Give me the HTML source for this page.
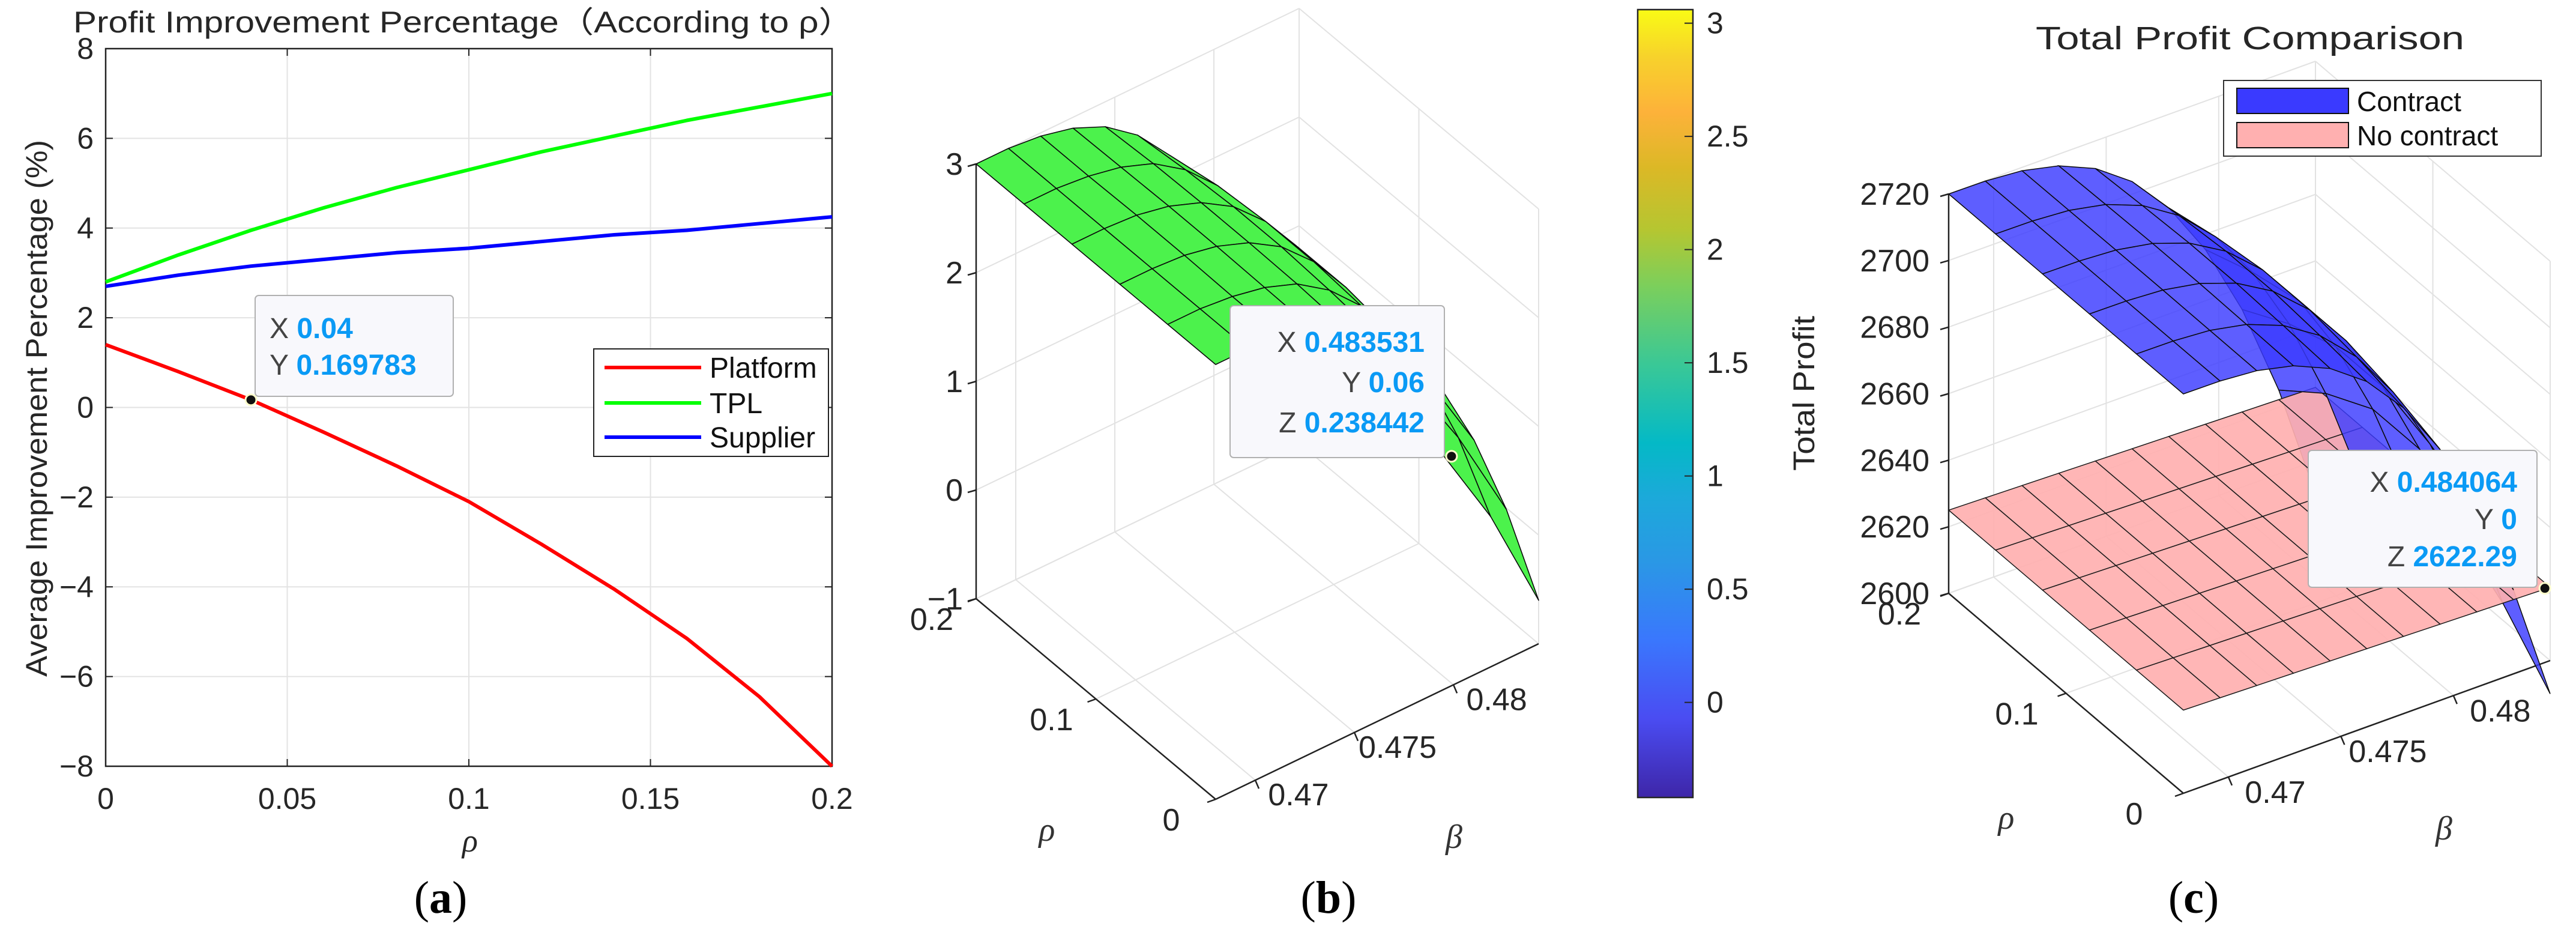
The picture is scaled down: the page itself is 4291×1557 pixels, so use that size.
<!DOCTYPE html>
<html><head><meta charset="utf-8"><style>
html,body{margin:0;padding:0;background:#fff;}
svg{display:block;font-family:"Liberation Sans",sans-serif;}
</style></head><body>
<svg id="fig" width="4291" height="1557" viewBox="0 0 4291 1557" xmlns="http://www.w3.org/2000/svg">
<rect x="0" y="0" width="4291" height="1557" fill="#fff"/>
<g id="pa"></g>
<g id="pb"></g>
<g id="pc"></g>
</svg>
<script>
// ---------- Panel (a) data ----------
const rhoA = [0,0.02,0.04,0.06,0.08,0.10,0.12,0.14,0.16,0.18,0.20];
const platformA = [1.4,0.8,0.17,-0.55,-1.3,-2.1,-3.05,-4.05,-5.15,-6.45,-8.0];
const tplA = [2.8,3.4,3.95,4.45,4.9,5.3,5.7,6.05,6.4,6.7,7.0];
const supplierA = [2.7,2.95,3.15,3.3,3.45,3.55,3.7,3.85,3.95,4.1,4.25];
const xTicksA = [0,0.05,0.1,0.15,0.2];
const xTickLabelsA = ["0","0.05","0.1","0.15","0.2"];
const yTicksA = [-8,-6,-4,-2,0,2,4,6,8];
const yTickLabelsA = ["\u22128","\u22126","\u22124","\u22122","0","2","4","6","8"];
const tipA = [0.04, 0.169783];

// ---------- Panel (b)/(c) data ----------
const betaGrid = [0.468,0.46963,0.47126,0.47289,0.47452,0.47615,0.47778,0.47941,0.48104,0.48267,0.4843];
const rhoGrid = [0,0.04,0.08,0.12,0.16,0.2];
const zB = [
 [3.00,3.00,2.97,2.90,2.77,2.55,2.22,1.77,1.16,0.38,-0.60],
 [3.00,3.00,2.97,2.91,2.80,2.60,2.31,1.90,1.36,0.67,-0.20],
 [3.00,3.00,2.98,2.92,2.81,2.63,2.35,1.97,1.46,0.81,0.00],
 [3.00,3.00,2.98,2.92,2.81,2.63,2.35,1.97,1.46,0.81,0.00],
 [3.00,3.00,2.97,2.91,2.80,2.60,2.31,1.90,1.36,0.67,-0.20],
 [3.00,3.00,2.97,2.90,2.77,2.55,2.22,1.77,1.16,0.38,-0.60]];
const zContract = [
 [2720,2719.9,2719,2716.5,2711.7,2703.8,2691.9,2675.4,2653.4,2625.2,2590],
 [2720,2719.9,2719.1,2716.9,2712.6,2705.6,2695.2,2680.6,2661.1,2636.2,2605],
 [2720,2719.9,2719.2,2717.2,2713.3,2706.9,2697.3,2684,2666.2,2643.5,2615],
 [2720,2719.9,2719.2,2717.2,2713.3,2706.9,2697.3,2684,2666.2,2643.5,2615],
 [2720,2719.9,2719.1,2716.9,2712.6,2705.6,2695.2,2680.6,2661.1,2636.2,2605],
 [2720,2719.9,2719,2716.5,2711.7,2703.8,2691.9,2675.4,2653.4,2625.2,2590]];
const zNoContract = [
 [2625,2624.7,2624.4,2624.1,2623.8,2623.5,2623.2,2622.9,2622.6,2622.3,2622.0],
 [2625,2624.7,2624.4,2624.1,2623.8,2623.5,2623.2,2622.9,2622.6,2622.3,2622.0],
 [2625,2624.7,2624.4,2624.1,2623.8,2623.5,2623.2,2622.9,2622.6,2622.3,2622.0],
 [2625,2624.7,2624.4,2624.1,2623.8,2623.5,2623.2,2622.9,2622.6,2622.3,2622.0],
 [2625,2624.7,2624.4,2624.1,2623.8,2623.5,2623.2,2622.9,2622.6,2622.3,2622.0],
 [2625,2624.7,2624.4,2624.1,2623.8,2623.5,2623.2,2622.9,2622.6,2622.3,2622.0]];
const betaTicks = [0.47,0.475,0.48];
const betaTickLabels = ["0.47","0.475","0.48"];
const rhoTicks = [0,0.1,0.2];
const rhoTickLabels = ["0","0.1","0.2"];
const zTicksB = [-1,0,1,2,3];
const zTickLabelsB = ["\u22121","0","1","2","3"];
const zTicksC = [2600,2620,2640,2660,2680,2700,2720];
const zTickLabelsC = ["2600","2620","2640","2660","2680","2700","2720"];
const cbarTicks = [0,0.5,1,1.5,2,2.5,3];
const cbarTickLabels = ["0","0.5","1","1.5","2","2.5","3"];
const tipB = [0.483531,0.06,0.238442];
const tipC = [0.484064,0,2622.29];

const NS="http://www.w3.org/2000/svg";
function mk(parent,tag,attrs,txt){const e=document.createElementNS(NS,tag);for(const k in attrs)e.setAttribute(k,attrs[k]);if(txt!==undefined)e.textContent=txt;parent.appendChild(e);return e;}

// ================= Panel (a) =================
const pa=document.getElementById('pa');
const AX={l:176,r:1386,t:81,b:1276,x0:0,x1:0.2,y0:-8,y1:8};
const sxA=v=>AX.l+(v-AX.x0)/(AX.x1-AX.x0)*(AX.r-AX.l);
const syA=v=>AX.b-(v-AX.y0)/(AX.y1-AX.y0)*(AX.b-AX.t);
xTicksA.forEach((v,i)=>{
  let g=mk(pa,'line',{x1:sxA(v),x2:sxA(v),y1:AX.t,y2:AX.b,stroke:'#e3e3e3','stroke-width':2});
  
  let t=mk(pa,'line',{x1:sxA(v),x2:sxA(v),y1:AX.b,y2:AX.b-12,stroke:'#222','stroke-width':2});
  
  let t2=mk(pa,'line',{x1:sxA(v),x2:sxA(v),y1:AX.t,y2:AX.t+12,stroke:'#222','stroke-width':2});
  
  let lb=mk(pa,'text',{x:sxA(v),y:1347,'text-anchor':'middle','font-size':50,fill:'#262626'},xTickLabelsA[i]);
  
});
yTicksA.forEach((v,i)=>{
  let g=mk(pa,'line',{x1:AX.l,x2:AX.r,y1:syA(v),y2:syA(v),stroke:'#e3e3e3','stroke-width':2});
  
  let t=mk(pa,'line',{x1:AX.l,x2:AX.l+12,y1:syA(v),y2:syA(v),stroke:'#222','stroke-width':2});
  
  let t2=mk(pa,'line',{x1:AX.r,x2:AX.r-12,y1:syA(v),y2:syA(v),stroke:'#222','stroke-width':2});
  
  let lb=mk(pa,'text',{x:156,y:syA(v)+17,'text-anchor':'end','font-size':50,fill:'#262626'},yTickLabelsA[i]);
  
});
let boxA=mk(pa,'rect',{x:AX.l,y:AX.t,width:AX.r-AX.l,height:AX.b-AX.t,fill:'none',stroke:'#222','stroke-width':2.5});

function lineA(vals,color,name){
  const d=vals.map((v,i)=>(i?'L':'M')+sxA(rhoA[i]).toFixed(1)+' '+syA(v).toFixed(1)).join(' ');
  const p=mk(pa,'path',{d:d,fill:'none',stroke:color,'stroke-width':6,'stroke-linejoin':'round'});
  
}
lineA(tplA,'#00ff00','tpl-line');
lineA(supplierA,'#0000ff','supplier-line');
lineA(platformA,'#ff0000','platform-line');
let ttl=mk(pa,'text',{x:122,y:54,'font-size':50,fill:'#262626',textLength:1300,lengthAdjust:'spacingAndGlyphs'},'Profit Improvement Percentage\uFF08According to \u03C1\uFF09');

let yt=mk(pa,'text',{x:0,y:0,transform:'translate(78,680) rotate(-90)','text-anchor':'middle','font-size':50,fill:'#262626',textLength:894,lengthAdjust:'spacingAndGlyphs'},'Average Improvement Percentage (%)');

let xt=mk(pa,'text',{x:783,y:1418,'text-anchor':'middle','font-size':54,'font-style':'italic','font-family':'Liberation Serif, serif',fill:'#262626'},'\u03C1');

let lg=mk(pa,'rect',{x:989,y:581,width:391,height:179,fill:'#fff',stroke:'#222','stroke-width':2});

[['Platform','#ff0000',612],['TPL','#00ff00',671],['Supplier','#0000ff',728]].forEach(e=>{
  let l=mk(pa,'line',{x1:1007,x2:1168,y1:e[2],y2:e[2],stroke:e[1],'stroke-width':6});
  
  let t=mk(pa,'text',{x:1182,y:e[2]+17,'font-size':48,fill:'#111'},e[0]);
  
});
let dtA=mk(pa,'rect',{x:425,y:492,width:330,height:168,rx:6,fill:'#f8f8fc',stroke:'#b0b0b0','stroke-width':2});

let dA1=mk(pa,'text',{x:449,y:563,'font-size':48,fill:'#444'});

dA1.innerHTML='X <tspan font-weight="bold" fill="#0a9af5">'+tipA[0]+'</tspan>';
let dA2=mk(pa,'text',{x:449,y:624,'font-size':48,fill:'#444'});

dA2.innerHTML='Y <tspan font-weight="bold" fill="#0a9af5">'+tipA[1]+'</tspan>';
let mA=mk(pa,'circle',{cx:sxA(tipA[0]),cy:syA(tipA[1]),r:9,fill:'#111',stroke:'#ffffcc','stroke-width':3});

let capA=mk(pa,'text',{x:734,y:1520,'text-anchor':'middle','font-size':76,'font-family':'Liberation Serif, serif',fill:'#000'});

capA.innerHTML='(<tspan font-weight="bold">a</tspan>)';

// ================= 3D helpers =================
function P(c,b,r,z){const fb=(b-c.b0)/(c.b1-c.b0),fr=(r-c.r0)/(c.r1-c.r0),fz=(z-c.z0)/(c.z1-c.z0);
  return [c.O[0]+fb*c.Vb[0]+fr*c.Vr[0]+fz*c.Vz[0], c.O[1]+fb*c.Vb[1]+fr*c.Vr[1]+fz*c.Vz[1]];}
function seg(g,a,b,col,w,name){const l=mk(g,'line',{x1:a[0],y1:a[1],x2:b[0],y2:b[1],stroke:col,'stroke-width':w});
  return l;}
function axes3d(g,c,zt,ztl,lblOff){
  const gc='#e2e2e2';
  betaTicks.forEach(b=>{seg(g,P(c,b,c.r0,c.z0),P(c,b,c.r1,c.z0),gc,2,'floor-gridline');
    seg(g,P(c,b,c.r1,c.z0),P(c,b,c.r1,c.z1),gc,2,'wall-gridline');});
  rhoTicks.forEach(r=>{seg(g,P(c,c.b0,r,c.z0),P(c,c.b1,r,c.z0),gc,2,'floor-gridline');
    seg(g,P(c,c.b1,r,c.z0),P(c,c.b1,r,c.z1),gc,2,'wall-gridline');});
  zt.forEach(z=>{seg(g,P(c,c.b0,c.r1,z),P(c,c.b1,c.r1,z),gc,2,'wall-gridline');
    seg(g,P(c,c.b1,c.r1,z),P(c,c.b1,c.r0,z),gc,2,'wall-gridline');});
  seg(g,P(c,c.b1,c.r0,c.z0),P(c,c.b1,c.r0,c.z1),gc,2,'box-edge');
  seg(g,P(c,c.b1,c.r1,c.z0),P(c,c.b1,c.r1,c.z1),gc,2,'box-edge');
  seg(g,P(c,c.b0,c.r1,c.z0),P(c,c.b0,c.r1,c.z1),'#222',2.5,'z-axis-line');
  seg(g,P(c,c.b0,c.r1,c.z0),P(c,c.b0,c.r0,c.z0),'#222',2.5,'rho-axis-line');
  seg(g,P(c,c.b0,c.r0,c.z0),P(c,c.b1,c.r0,c.z0),'#222',2.5,'beta-axis-line');
  zt.forEach((z,i)=>{const p=P(c,c.b0,c.r1,z);seg(g,p,[p[0]-14,p[1]+4],'#222',2.5,'z-tick');
    const t=mk(g,'text',{x:p[0]-lblOff.z,y:p[1]+18,'text-anchor':'end','font-size':52,fill:'#262626'},ztl[i]);
    });
  betaTicks.forEach((b,i)=>{const p=P(c,b,c.r0,c.z0);seg(g,p,[p[0]+6,p[1]+14],'#222',2.5,'beta-tick');
    const t=mk(g,'text',{x:p[0]+lblOff.b[0],y:p[1]+lblOff.b[1],'text-anchor':'middle','font-size':52,fill:'#262626'},betaTickLabels[i]);
    });
  rhoTicks.forEach((r,i)=>{const p=P(c,c.b0,r,c.z0);seg(g,p,[p[0]-14,p[1]+5],'#222',2.5,'rho-tick');
    const t=mk(g,'text',{x:p[0]+lblOff.r[0],y:p[1]+lblOff.r[1],'text-anchor':'middle','font-size':52,fill:'#262626'},rhoTickLabels[i]);
    });
}
function quads(c,Z,style,name,list,bias){
  for(let j=0;j<rhoGrid.length-1;j++)for(let i=0;i<betaGrid.length-1;i++){
    const pts=[[i,j],[i+1,j],[i+1,j+1],[i,j+1]].map(q=>P(c,betaGrid[q[0]],rhoGrid[q[1]],Z[q[1]][q[0]]));
    const bb=P(c,(betaGrid[i]+betaGrid[i+1])/2,(rhoGrid[j]+rhoGrid[j+1])/2,c.z0);
    const zm=(Z[j][i]+Z[j][i+1]+Z[j+1][i]+Z[j+1][i+1])/4;
    const top=P(c,(betaGrid[i]+betaGrid[i+1])/2,(rhoGrid[j]+rhoGrid[j+1])/2,zm);
    list.push({pts,style,name,key:bb[1]+0.3*(bb[1]-top[1])+bias});
  }
}
function drawQuads(g,list){
  list.sort((a,b)=>a.key-b.key);
  list.forEach(q=>{const p=mk(g,'polygon',Object.assign({points:q.pts.map(v=>v[0].toFixed(1)+','+v[1].toFixed(1)).join(' ')},q.style));
    });
}

// ================= Panel (b) =================
const pb=document.getElementById('pb');
const cB={O:[2025,1331],Vb:[538,-259],Vr:[-399,-334],Vz:[0,-724],b0:0.468,b1:0.4843,r0:0,r1:0.2,z0:-1,z1:3};
axes3d(pb,cB,zTicksB,zTickLabelsB,{z:22,b:[72,42],r:[-74,52]});
const qB=[];quads(cB,zB,{fill:'#4cf24c',stroke:'#0a0a0a','stroke-width':1.6,'stroke-linejoin':'round'},'surface-patch',qB,0);
drawQuads(pb,qB);
let rhoB=mk(pb,'text',{x:1744,y:1400,'text-anchor':'middle','font-size':56,'font-style':'italic','font-family':'Liberation Serif, serif',fill:'#333'},'\u03C1');

let betB=mk(pb,'text',{x:2422,y:1412,'text-anchor':'middle','font-size':56,'font-style':'italic','font-family':'Liberation Serif, serif',fill:'#333'},'\u03B2');

let dtB=mk(pb,'rect',{x:2049,y:509,width:357,height:253,rx:6,fill:'#f8f8fc',stroke:'#b0b0b0','stroke-width':2});

['X','Y','Z'].forEach((k,i)=>{const t=mk(pb,'text',{x:2373,y:586+i*67,'text-anchor':'end','font-size':48,fill:'#444'});
  
  t.innerHTML=k+' <tspan font-weight="bold" fill="#0a9af5">'+tipB[i]+'</tspan>';});
const mbp=P(cB,tipB[0],tipB[1],tipB[2]);
let mB=mk(pb,'circle',{cx:mbp[0],cy:mbp[1],r:9,fill:'#111',stroke:'#ffffcc','stroke-width':3});

const defs=mk(document.getElementById('fig'),'defs',{});
const grad=mk(defs,'linearGradient',{id:'parula',x1:0,y1:1,x2:0,y2:0});
[['0','#3e26a8'],['0.1','#4a4cf2'],['0.2','#3a77fd'],['0.3','#2a98e5'],['0.38','#1ca9da'],['0.45','#04b9c6'],['0.55','#3ac896'],['0.65','#7ccf5b'],['0.72','#b5c631'],['0.8','#dcb826'],['0.87','#fdb23a'],['0.94','#f7d22b'],['1','#f9fb15']].forEach(s=>mk(grad,'stop',{offset:s[0],'stop-color':s[1]}));
const CB={x:2728,w:92,t:16,b:1328,v0:-0.42,v1:3.06};
const syCB=v=>CB.b-(v-CB.v0)/(CB.v1-CB.v0)*(CB.b-CB.t);
let cbr=mk(pb,'rect',{x:CB.x,y:CB.t,width:CB.w,height:CB.b-CB.t,fill:'url(#parula)',stroke:'#262626','stroke-width':2.5});

cbarTicks.forEach((v,i)=>{seg(pb,[CB.x+CB.w-14,syCB(v)],[CB.x+CB.w,syCB(v)],'#262626',2,'colorbar-tick');
  const t=mk(pb,'text',{x:2843,y:syCB(v)+17,'font-size':50,fill:'#262626'},cbarTickLabels[i]);
  });
let capB=mk(pb,'text',{x:2213,y:1520,'text-anchor':'middle','font-size':76,'font-family':'Liberation Serif, serif',fill:'#000'});

capB.innerHTML='(<tspan font-weight="bold">b</tspan>)';

// ================= Panel (c) =================
const pc=document.getElementById('pc');
const cC={O:[3637,1321],Vb:[611,-221],Vr:[-391,-333],Vz:[0,-665],b0:0.468,b1:0.4843,r0:0,r1:0.2,z0:2600,z1:2720};
axes3d(pc,cC,zTicksC,zTickLabelsC,{z:32,b:[78,43],r:[-82,52]});
const qC=[];
quads(cC,zNoContract,{fill:'#ffb0b0','fill-opacity':0.92,stroke:'#1a1a1a','stroke-width':1.5},'no-contract-patch',qC,0);
quads(cC,zContract,{fill:'#3a3aff','fill-opacity':0.82,stroke:'#0a0a0a','stroke-width':1.5},'contract-patch',qC,0.5);
drawQuads(pc,qC);
let ttlC=mk(pc,'text',{x:3748,y:82,'text-anchor':'middle','font-size':54,fill:'#262626',textLength:714,lengthAdjust:'spacingAndGlyphs'},'Total Profit Comparison');

let ztC=mk(pc,'text',{x:0,y:0,transform:'translate(3022,655) rotate(-90)','text-anchor':'middle','font-size':50,fill:'#262626',textLength:258,lengthAdjust:'spacingAndGlyphs'},'Total Profit');

let rhoC=mk(pc,'text',{x:3342,y:1380,'text-anchor':'middle','font-size':56,'font-style':'italic','font-family':'Liberation Serif, serif',fill:'#333'},'\u03C1');

let betC=mk(pc,'text',{x:4071,y:1398,'text-anchor':'middle','font-size':56,'font-style':'italic','font-family':'Liberation Serif, serif',fill:'#333'},'\u03B2');

let lgC=mk(pc,'rect',{x:3704,y:134,width:529,height:126,fill:'#fff',stroke:'#333','stroke-width':2});

[['Contract','#3a3aff',147,169],['No contract','#ffb0b0',204,226]].forEach(e=>{
  const r=mk(pc,'rect',{x:3726,y:e[2],width:186,height:42,fill:e[1],stroke:'#111','stroke-width':2});
  
  const t=mk(pc,'text',{x:3926,y:e[3]+16,'font-size':46,fill:'#111'},e[0]);
  
});
let dtC=mk(pc,'rect',{x:3845,y:750,width:381,height:228,rx:6,fill:'#f8f8fc',stroke:'#b0b0b0','stroke-width':2});

['X','Y','Z'].forEach((k,i)=>{const t=mk(pc,'text',{x:4193,y:819+i*62,'text-anchor':'end','font-size':48,fill:'#444'});
  
  t.innerHTML=k+' <tspan font-weight="bold" fill="#0a9af5">'+tipC[i]+'</tspan>';});
const mcp=P(cC,tipC[0],tipC[1],tipC[2]);
let mC=mk(pc,'circle',{cx:mcp[0],cy:mcp[1],r:9,fill:'#111',stroke:'#ffffcc','stroke-width':3});

let capC=mk(pc,'text',{x:3654,y:1520,'text-anchor':'middle','font-size':76,'font-family':'Liberation Serif, serif',fill:'#000'});

capC.innerHTML='(<tspan font-weight="bold">c</tspan>)';
</script>
</body></html>
